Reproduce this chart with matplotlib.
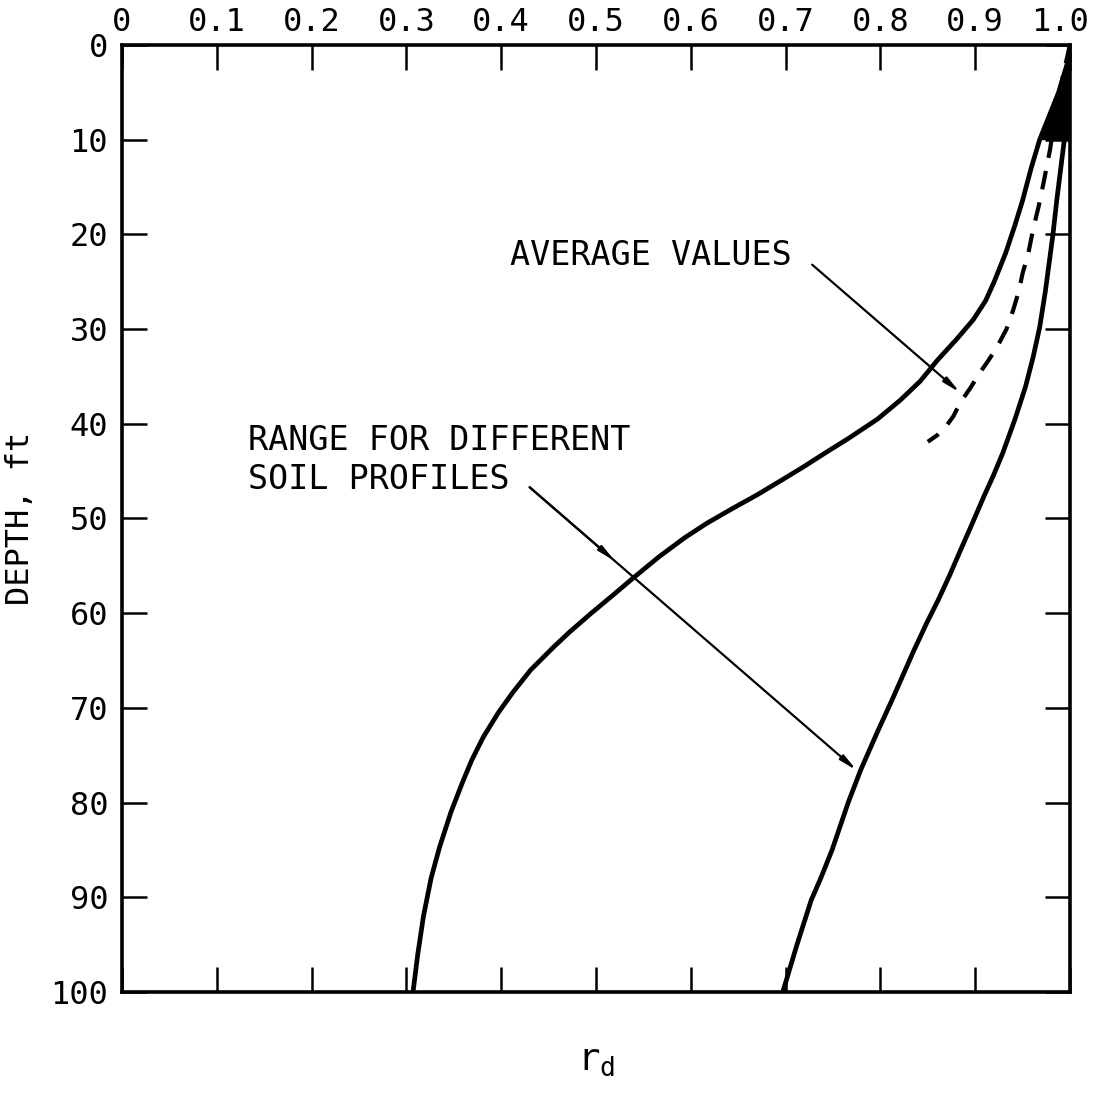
import matplotlib
matplotlib.use('Agg')
import matplotlib.pyplot as plt
from matplotlib.transforms import ScaledTranslation

# lower bound of the range (smallest rd)
lower_depth = [0, 2, 5, 8, 10, 13, 16.4, 19, 22, 25, 27, 29, 31, 33.3, 35.5,
               37.5, 39.5, 41.5, 43, 44.6, 46, 47.5, 49, 50.5, 52, 54, 56.3,
               58, 60, 62, 63.6, 66, 68.4, 70.5, 73.1, 75.5, 77.9, 81, 84.7,
               88, 92, 96, 100]
lower_rd = [1.0, 0.997, 0.988, 0.976, 0.968, 0.959, 0.95, 0.942, 0.932, 0.92,
            0.911, 0.898, 0.881, 0.86, 0.842, 0.821, 0.797, 0.767, 0.743,
            0.718, 0.695, 0.67, 0.643, 0.617, 0.594, 0.567, 0.539, 0.519,
            0.495, 0.472, 0.455, 0.431, 0.412, 0.397, 0.381, 0.369, 0.359,
            0.347, 0.335, 0.326, 0.318, 0.312, 0.307]

# upper bound of the range (largest rd)
upper_depth = [0, 5, 10, 16.4, 20, 23, 26, 29.8, 33, 36.1, 39.5, 43.1, 45.5,
               47.7, 50.5, 53, 56, 58.6, 61, 64, 66.5, 69, 72.5, 76.6, 80, 85,
               88, 90.3, 95, 100]
upper_rd = [1.0, 0.998, 0.994, 0.986, 0.982, 0.978, 0.974, 0.968, 0.961,
            0.953, 0.942, 0.929, 0.919, 0.909, 0.897, 0.886, 0.873, 0.861,
            0.849, 0.835, 0.824, 0.813, 0.797, 0.779, 0.766, 0.749, 0.737,
            0.727, 0.712, 0.697]

# average values (dashed)
avg_depth = [0, 3, 7, 11, 14.6, 17, 19.5, 22, 24.1, 26, 28, 30, 31.9, 33.3,
             34.6, 36.2, 37.8, 39.2, 40.3, 41.2, 41.9]
avg_rd = [1.0, 0.993, 0.985, 0.979, 0.972, 0.967, 0.961, 0.956, 0.95, 0.946,
          0.94, 0.933, 0.923, 0.914, 0.905, 0.895, 0.884, 0.877, 0.869,
          0.86, 0.85]

x_ticks = [0, 0.1, 0.2, 0.3, 0.4, 0.5, 0.6, 0.7, 0.8, 0.9, 1.0]
x_labels = ['0', '0.1', '0.2', '0.3', '0.4', '0.5', '0.6', '0.7', '0.8',
            '0.9', '1.0']
y_ticks = [0, 10, 20, 30, 40, 50, 60, 70, 80, 90, 100]

plt.rcParams['font.family'] = ['DejaVu Sans Mono', 'DejaVu Sans']

fig = plt.figure(figsize=(10.96, 11.02), dpi=100)
ax = fig.add_axes([0.1113, 0.0998, 0.865, 0.8594])

ax.plot(lower_rd, lower_depth, color='black', lw=3.4, solid_capstyle='butt',
        solid_joinstyle='round')
ax.plot(upper_rd, upper_depth, color='black', lw=3.4, solid_capstyle='butt',
        solid_joinstyle='round')
ax.plot(avg_rd, avg_depth, color='black', lw=3.0, dashes=(4.5, 3.2))

# blackened wedge near the surface where the curves merge
top = [i for i, d in enumerate(lower_depth) if d <= 10]
ax.fill_betweenx([lower_depth[i] for i in top], [lower_rd[i] for i in top],
                 1.0, color='black', lw=0)

ax.set_xlim(0, 1.0)
ax.set_ylim(100, 0)
ax.set_xticks(x_ticks)
ax.set_xticklabels(x_labels)
ax.set_yticks(y_ticks)

ax.tick_params(axis='x', top=True, bottom=True, labeltop=True,
               labelbottom=False, direction='in', length=18, width=1.8,
               labelsize=23, pad=5)
ax.tick_params(axis='y', left=True, right=True, labelleft=True,
               labelright=False, direction='in', length=18, width=1.8,
               labelsize=23, pad=10)
for s in ax.spines.values():
    s.set_linewidth(2.6)

# keep the last top label inside the figure, as in the original
last = ax.xaxis.get_major_ticks()[-1].label2
last.set_transform(last.get_transform()
                   + ScaledTranslation(-0.1, 0, fig.dpi_scale_trans))

ax.set_ylabel('DEPTH, ft', fontsize=23, labelpad=10)
ax.set_xlabel(r'$\mathregular{r_{d}}$', fontsize=27, labelpad=36)

arrow = dict(arrowstyle='-|>,head_length=1.0,head_width=0.18',
             color='black', lw=1.6, shrinkA=0, shrinkB=0)

ax.text(0.409, 22.2, 'AVERAGE VALUES', fontsize=24, va='center', ha='left')
ax.annotate('', xy=(0.884, 36.7), xytext=(0.728, 23.2), arrowprops=arrow)

ax.text(0.133, 43.8, 'RANGE FOR DIFFERENT\nSOIL PROFILES', fontsize=24,
        va='center', ha='left', linespacing=1.25)
ax.annotate('', xy=(0.775, 76.6), xytext=(0.430, 46.7), arrowprops=arrow)
ax.annotate('', xy=(0.520, 54.5), xytext=(0.430, 46.7), arrowprops=arrow)

fig.savefig('out.png', dpi=100)
